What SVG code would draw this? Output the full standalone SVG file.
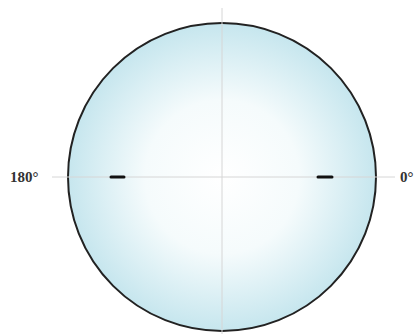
<svg xmlns="http://www.w3.org/2000/svg" width="419" height="334" viewBox="0 0 419 334">
<style>
.axis{stroke:#d6d6d6;stroke-width:1;fill:none}
.tick{stroke:#111;stroke-width:3;stroke-linecap:round}
.lbl{font-family:"Liberation Serif",serif;font-weight:bold;font-size:15px;fill:#333}
</style>
<defs>
<radialGradient id="g" cx="0.5" cy="0.5" r="0.5">
<stop offset="0" stop-color="#ffffff"/>
<stop offset="0.5" stop-color="#f5fbfc"/>
<stop offset="1" stop-color="#c6e6ee"/>
</radialGradient>
</defs>
<g id="disk">
<circle cx="222" cy="177" r="154" fill="url(#g)" stroke="#222" stroke-width="2"/>
</g>
<g id="axes">
<line class="axis" x1="52" y1="177" x2="395" y2="177"/>
<line class="axis" x1="222" y1="8" x2="222" y2="334"/>
</g>
<g id="ticks">
<line class="tick" x1="111" y1="177" x2="124" y2="177"/>
<line class="tick" x1="318" y1="177" x2="332" y2="177"/>
</g>
<g id="labels">
<text class="lbl" x="10" y="182">180°</text>
<text class="lbl" x="400" y="182">0°</text>
</g>
</svg>
